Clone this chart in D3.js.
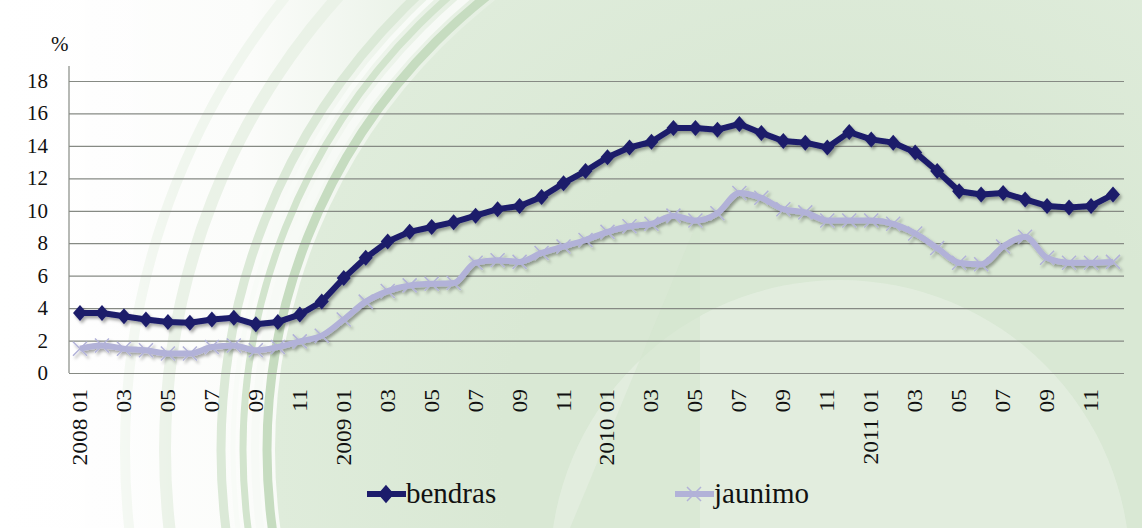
<!DOCTYPE html>
<html>
<head>
<meta charset="utf-8">
<script src="https://cdn.jsdelivr.net/npm/d3@7"></script>
<style>
  body { margin: 0; background: #fff; }
  svg { display: block; }
  text { font-family: "Liberation Serif", "DejaVu Serif", "Times New Roman", serif; }
</style>
</head>
<body>
<div id="output"></div>
<script>
// months shown on the x axis
const years = ["2008", "2009", "2010", "2011"];
const months = ["01", "02", "03", "04", "05", "06", "07", "08", "09", "10", "11", "12"];
// unemployment rate, %
const bendras = [3.7, 3.7, 3.5, 3.3, 3.15, 3.1, 3.3, 3.4, 3.0, 3.15, 3.6, 4.4,
    5.85, 7.1, 8.1, 8.7, 9.0, 9.3, 9.7, 10.1, 10.3, 10.85, 11.7, 12.45,
    13.3, 13.9, 14.25, 15.1, 15.1, 15.0, 15.35, 14.8, 14.3, 14.2, 13.9, 14.85,
    14.4, 14.2, 13.6, 12.45, 11.2, 11.0, 11.1, 10.7, 10.3, 10.2, 10.3, 11.0];
const jaunimo = [1.5, 1.7, 1.5, 1.4, 1.2, 1.2, 1.6, 1.7, 1.4, 1.6, 1.95, 2.3,
    3.3, 4.4, 5.05, 5.4, 5.5, 5.55, 6.8, 6.95, 6.85, 7.4, 7.8, 8.2,
    8.7, 9.05, 9.2, 9.7, 9.4, 9.85, 11.1, 10.8, 10.1, 9.9, 9.4, 9.4,
    9.4, 9.2, 8.6, 7.7, 6.8, 6.7, 7.8, 8.4, 7.1, 6.8, 6.8, 6.85];
const yTicks = [0, 2, 4, 6, 8, 10, 12, 14, 16, 18];

const categories = [];
for (let y of years) {
    for (let m of months) {
        categories.push(m === "01" ? y + " " + m : m);
    }
}

const W = 1142, H = 528;
const navy = "#1c1c6b";
const lilac = "#b2b2d8";

const svg = d3.select("#output").append("svg").attr("width", W).attr("height", H);
const defs = svg.append("defs");

// background gradients
const bgGrad = defs.append("linearGradient").attr("id", "bg").attr("x1", 0).attr("x2", 1).attr("y1", 0).attr("y2", 0);
bgGrad.append("stop").attr("offset", "0").attr("stop-color", "#ffffff");
bgGrad.append("stop").attr("offset", "0.22").attr("stop-color", "#fbfcfa");
bgGrad.append("stop").attr("offset", "0.4").attr("stop-color", "#e6f0e3");
bgGrad.append("stop").attr("offset", "1").attr("stop-color", "#dce9d7");

const inner = defs.append("radialGradient").attr("id", "inner").attr("cx", 0.5).attr("cy", 0.5).attr("r", 0.5);
inner.append("stop").attr("offset", "0.6").attr("stop-color", "#d9e8d4");
inner.append("stop").attr("offset", "1").attr("stop-color", "#dfecdb");

const shadow = defs.append("filter").attr("id", "shadow").attr("x", "-5%").attr("y", "-20%").attr("width", "110%").attr("height", "140%");
shadow.append("feDropShadow").attr("dx", 2).attr("dy", 2.5).attr("stdDeviation", 1.6)
    .attr("flood-color", "#000").attr("flood-opacity", 0.35);

svg.append("rect").attr("width", W).attr("height", H).attr("fill", "url(#bg)");

// swirl decoration
const cx = 845, cy = 450;
svg.append("circle").attr("cx", cx).attr("cy", cy).attr("r", 570).attr("fill", "url(#inner)");
const rings = [
    { r: 578, c: "#c6dcc0", w: 9 },
    { r: 590, c: "#f7faf6", w: 8 },
    { r: 602, c: "#d2e4cd", w: 7 },
    { r: 612, c: "#f8fbf7", w: 5 },
    { r: 624, c: "#dbe9d7", w: 9 },
    { r: 680, c: "#eaf2e7", w: 12 },
    { r: 720, c: "#f0f6ee", w: 10 }
];
for (let o of rings) {
    svg.append("circle").attr("cx", cx).attr("cy", cy).attr("r", o.r)
        .attr("fill", "none").attr("stroke", o.c).attr("stroke-width", o.w);
}
// fade the far left to white
const fade = defs.append("linearGradient").attr("id", "fade").attr("x1", 0).attr("x2", 1);
fade.append("stop").attr("offset", "0").attr("stop-color", "#fff").attr("stop-opacity", 0.95);
fade.append("stop").attr("offset", "1").attr("stop-color", "#fff").attr("stop-opacity", 0);
svg.append("rect").attr("width", 180).attr("height", H).attr("fill", "url(#fade)");

svg.append("circle").attr("cx", 840).attr("cy", 570).attr("r", 290)
    .attr("fill", "#e6efe3").attr("opacity", 0.7);
svg.append("path").attr("d", "M700,215 L700,528 L570,528 Z")
    .attr("fill", "#d3e5ce").attr("opacity", 0.55);

// scales
const x = d3.scaleBand().domain(d3.range(categories.length)).range([69, 1124]);
const y = d3.scaleLinear().domain([0, 18]).range([373, 81]);
const cxp = i => x(i) + x.bandwidth() / 2;

// grid
svg.append("g")
    .call(d3.axisLeft(y).tickValues(yTicks).tickSize(-(1124 - 69)).tickFormat(""))
    .attr("transform", "translate(69,0)")
    .call(g => g.select(".domain").remove())
    .call(g => g.selectAll("line").attr("stroke", "#868a84").attr("stroke-width", 1.2));

svg.append("line").attr("x1", 69).attr("x2", 69).attr("y1", 66).attr("y2", 373)
    .attr("stroke", "#868a84").attr("stroke-width", 1.2);

// y labels
svg.append("g").selectAll("text").data(yTicks).join("text")
    .attr("x", 48).attr("y", d => y(d) + 7)
    .attr("text-anchor", "end")
    .attr("font-size", 21).attr("fill", "#111")
    .text(d => d);

svg.append("text").attr("x", 51).attr("y", 51)
    .attr("font-size", 21).attr("fill", "#111")
    .text("%");

// x labels, every second month
svg.append("g").selectAll("text").data(categories.filter((d, i) => i % 2 === 0)).join("text")
    .attr("transform", (d, i) => "translate(" + (cxp(i * 2) + 7) + ",389) rotate(-90) scale(1.12,1)")
    .attr("text-anchor", "end")
    .attr("font-size", 21).attr("fill", "#111")
    .text(d => d);

// series
const lineJ = d3.line().x((d, i) => cxp(i)).y(d => y(d)).curve(d3.curveMonotoneX);
const lineB = d3.line().x((d, i) => cxp(i)).y(d => y(d));

const gJ = svg.append("g").attr("filter", "url(#shadow)");
gJ.append("path").datum(jaunimo).attr("d", lineJ)
    .attr("fill", "none").attr("stroke", lilac).attr("stroke-width", 6).attr("stroke-linejoin", "round");
gJ.selectAll(".xm").data(jaunimo).join("path").attr("class", "xm")
    .attr("transform", (d, i) => "translate(" + cxp(i) + "," + y(d) + ")")
    .attr("d", "M-7,-7L7,7M-7,7L7,-7")
    .attr("stroke", lilac).attr("stroke-width", 1.5);

const gB = svg.append("g").attr("filter", "url(#shadow)");
gB.append("path").datum(bendras).attr("d", lineB)
    .attr("fill", "none").attr("stroke", navy).attr("stroke-width", 6).attr("stroke-linejoin", "round");
gB.selectAll(".dm").data(bendras).join("path").attr("class", "dm")
    .attr("transform", (d, i) => "translate(" + cxp(i) + "," + y(d) + ")")
    .attr("d", "M0,-8L7,0L0,8L-7,0Z")
    .attr("fill", navy);

// legend
const legend = [
    { name: "bendras", color: navy, x: 367, marker: "M0,-8L7,0L0,8L-7,0Z" },
    { name: "jaunimo", color: lilac, x: 675, marker: "M-7,-7L7,7M-7,7L7,-7" }
];
for (let o of legend) {
    const g = svg.append("g");
    g.append("line").attr("x1", o.x).attr("x2", o.x + 39).attr("y1", 494).attr("y2", 494)
        .attr("stroke", o.color).attr("stroke-width", 6);
    g.append("path").attr("transform", "translate(" + (o.x + 19) + ",494)").attr("d", o.marker)
        .attr("fill", o.name === "bendras" ? o.color : "none")
        .attr("stroke", o.color).attr("stroke-width", 1.5);
    g.append("text").attr("x", o.x + 39).attr("y", 503)
        .attr("font-size", 29).attr("fill", "#111")
        .text(o.name);
}
</script>
</body>
</html>
